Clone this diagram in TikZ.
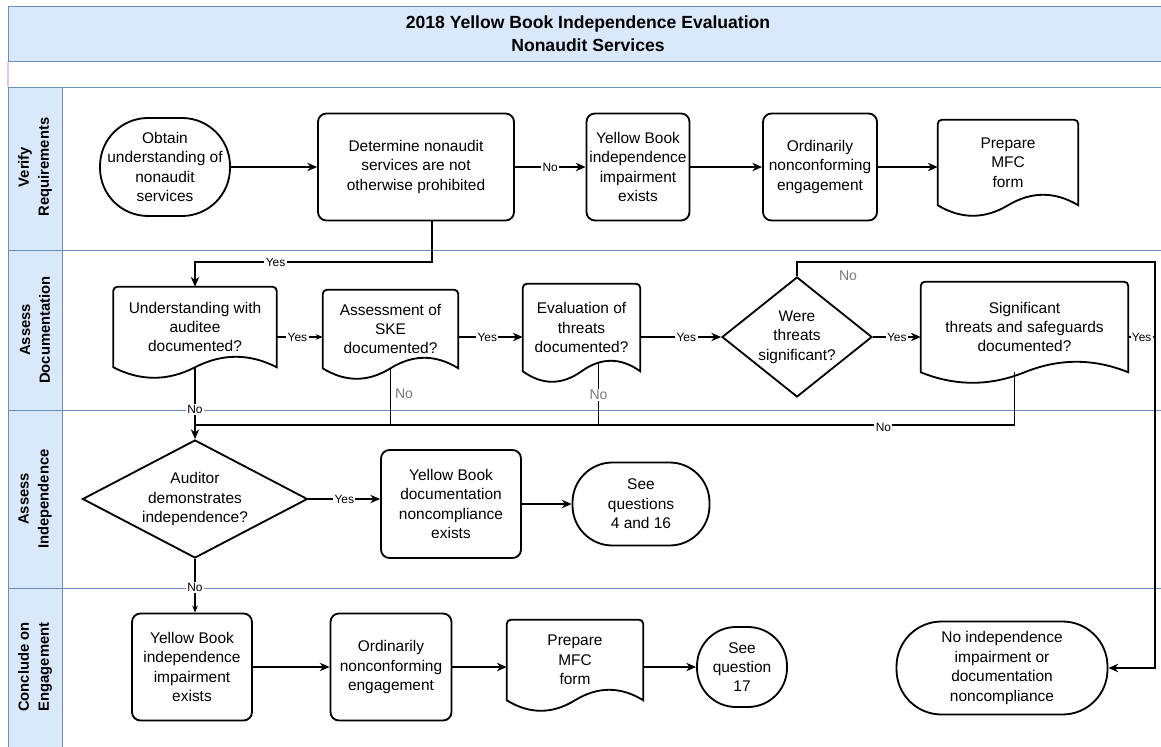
\documentclass[tikz,border=0pt]{standalone}
\usepackage{fontspec}
\setmainfont{Liberation Sans}
\usetikzlibrary{shapes.geometric,arrows.meta,calc}
\definecolor{lanefill}{HTML}{DAE8FC}
\definecolor{laneline}{HTML}{6C8EBF}
\definecolor{edgepurple}{HTML}{D9C8E6}
\definecolor{lblgray}{HTML}{7A7A7A}
\newcommand\pxu[1]{#1*0.025cm}
\newcommand\docwave[1]{%
  \draw[line width=1.3pt] (#1.south west) [rounded corners=3pt] -- (#1.north west) -- (#1.north east) [sharp corners] -- (#1.south east)
    .. controls ($(#1.south east)!0.1667!(#1.south west)+(0,-14)$) and ($(#1.south east)!0.3333!(#1.south west)+(0,-14)$) .. (#1.south)
    .. controls ($(#1.south east)!0.6667!(#1.south west)+(0,14)$) and ($(#1.south east)!0.8333!(#1.south west)+(0,14)$) .. (#1.south west) -- cycle;}
\begin{document}
\begin{tikzpicture}[x=0.025cm,y=-0.025cm,
  txt/.style={font=\fontsize{11}{13.8}\selectfont, align=center, inner sep=0pt},
  proc/.style={txt, draw, line width=1.3pt, rounded corners=6pt, rectangle},
  term/.style={txt, draw, line width=1.3pt, rectangle},
  dec/.style={txt, draw, line width=1.3pt, diamond},
  docn/.style={txt},
  lanelbl/.style={rotate=90, align=center, font=\bfseries\fontsize{10.5}{14.2}\selectfont},
  line/.style={line width=0.8pt},
  conn/.style={line width=0.8pt, -{Stealth[length=7pt,width=6pt]}},
  connsm/.style={line width=0.8pt, -{Stealth[length=5pt,width=4pt]}},
  lbl/.style={font=\fontsize{8.5}{10}\selectfont, fill=white, inner sep=1pt},
  glbl/.style={font=\fontsize{10}{12}\selectfont, text=lblgray, inner sep=1pt}]
\useasboundingbox (0,0) rectangle (1161,747);
% title band
\fill[lanefill] (8,6) rectangle (1170,61);
\draw[laneline] (8,6) rectangle (1170,61);
\node[font=\bfseries\fontsize{12.5}{16.3}\selectfont, align=center] (title) at (588,34) {2018 Yellow Book Independence Evaluation\\Nonaudit Services};
\draw[edgepurple, line width=1pt] (8,62) -- (8,87);
% lanes
\foreach \ya/\yb in {87/250, 250/410, 410/588, 588/760}{
  \fill[lanefill] (8,\ya) rectangle (62,\yb);
  \draw[laneline] (8,\ya) rectangle (1170,\yb);
  \draw[laneline] (62,\ya) -- (62,\yb);
}
\node[lanelbl] (l1) at (35,167) {Verify\\Requirements};
\node[lanelbl] (l2) at (35,330) {Assess\\Documentation};
\node[lanelbl] (l3) at (35,499) {Assess\\Independence};
\node[lanelbl] (l4) at (35,667) {Conclude on\\Engagement};

% lane 1
\node[term, rounded corners=\pxu{48}, minimum width=\pxu{130}, minimum height=\pxu{98}] (obtain) at (165,167) {Obtain\\understanding of\\nonaudit\\services};
\node[proc, minimum width=\pxu{196}, minimum height=\pxu{107}] (determine) at (416,167) {Determine nonaudit\\services are not\\otherwise prohibited};
\node[proc, minimum width=\pxu{103}, minimum height=\pxu{107}] (yb1) at (638,167) {Yellow Book\\independence\\impairment\\exists};
\node[proc, minimum width=\pxu{114}, minimum height=\pxu{107}] (ord1) at (820,167) {Ordinarily\\nonconforming\\engagement};
\node[docn, minimum width=\pxu{140}, minimum height=\pxu{85}] (mfc1) at (1008,162.5) {Prepare\\MFC\\form};
\docwave{mfc1}

% lane 2
\node[docn, minimum width=\pxu{163}, minimum height=\pxu{80}] (und) at (195,327) {Understanding with\\auditee\\documented?};
\docwave{und}
\node[docn, minimum width=\pxu{135}, minimum height=\pxu{78}] (ske) at (390.5,329) {Assessment of\\SKE\\documented?};
\docwave{ske}
\node[docn, minimum width=\pxu{117}, minimum height=\pxu{87}] (evalth) at (581.5,327.5) {Evaluation of\\threats\\documented?};
\docwave{evalth}
\node[dec, shape aspect=1.25, inner sep=0pt, minimum width=\pxu{150}, minimum height=\pxu{120}] (were) at (797,337) {Were\\threats\\significant?};
\node[docn, minimum width=\pxu{207}, minimum height=\pxu{90}] (sig) at (1024.5,327) {Significant\\threats and safeguards\\documented?};
\docwave{sig}

% lane 3
\node[dec, shape aspect=1.9, inner sep=0pt, minimum width=\pxu{225}, minimum height=\pxu{118}] (aud) at (195,499) {Auditor\\demonstrates\\independence?};
\node[proc, minimum width=\pxu{140}, minimum height=\pxu{108}] (ybdoc) at (451,504) {Yellow Book\\documentation\\noncompliance\\exists};
\node[term, rounded corners=\pxu{40}, minimum width=\pxu{137}, minimum height=\pxu{83}] (seeq) at (641,504) {See\\questions\\4 and 16};

% lane 4
\node[proc, minimum width=\pxu{120}, minimum height=\pxu{107}] (yb2) at (192,667) {Yellow Book\\independence\\impairment\\exists};
\node[proc, minimum width=\pxu{121}, minimum height=\pxu{107}] (ord2) at (391,667) {Ordinarily\\nonconforming\\engagement};
\node[docn, minimum width=\pxu{136}, minimum height=\pxu{80}] (mfc2) at (575,660) {Prepare\\MFC\\form};
\docwave{mfc2}
\node[term, rounded corners=\pxu{39}, minimum width=\pxu{90}, minimum height=\pxu{80}] (seeq17) at (742,667) {See\\question\\17};
\node[term, rounded corners=\pxu{45}, minimum width=\pxu{211}, minimum height=\pxu{93}] (noind) at (1002,668) {No independence\\impairment or\\documentation\\noncompliance};

% helper coordinates
\coordinate (ty) at (0,262);
\coordinate (dy) at ($(determine.south)+(16,0)$);
\coordinate (rt) at (1155,262);
\coordinate (rb) at (1155,668);
\coordinate (mj) at (195,425);
\coordinate (evb) at ($(evalth.south)+(17,-9)$);

% lane 1 connectors
\draw[conn] (obtain.east) -- (determine.west);
\draw[conn] (determine.east) -- node[lbl]{No} (yb1.west);
\draw[conn] (yb1.east) -- (ord1.west);
\draw[conn] (ord1.east) -- (ord1.east -| mfc1.west);
\draw[conn] (dy) -- (dy |- ty) -| node[lbl, pos=0.33]{Yes} (und.north);

% lane 2 connectors
\draw[connsm] (und.east |- were) -- node[lbl, pos=0.45]{Yes} (ske.west |- were);
\draw[conn] (ske.east |- were) -- node[lbl, pos=0.45]{Yes} (evalth.west |- were);
\draw[conn] (evalth.east |- were) -- node[lbl, pos=0.57]{Yes} (were.west);
\draw[conn] (were.east) -- node[lbl]{Yes} (sig.west |- were);
\draw[conn] (sig.east |- were) -- node[lbl]{Yes} (rt |- were);
\draw[conn] (were.north) |- (rt) -- (rb) -- (noind.east);
\node[glbl] (nolbl1) at (848,276) {No};

% No lines to auditor decision
\draw[conn] (und.south) -- node[lbl, pos=0.59]{No} (und.south |- aud.north);
\draw[line] ($(sig.south)+(-10,0)$) |- node[lbl, pos=0.58, yshift=-2]{No} (mj);
\draw[line] (ske.south) -- (ske.south |- mj);
\node[glbl] (nolbl2) at (404,394) {No};
\draw[line] (evb) -- node[glbl, fill=white, pos=0.52]{No} (evb |- mj);

% lane 3 connectors
\draw[conn] (aud.east) -- node[lbl]{Yes} (aud.east -| ybdoc.west);
\draw[conn] (ybdoc.east) -- (seeq.west);
\draw[connsm] (aud.south) -- node[lbl, pos=0.53]{No} (aud.south |- yb2.north);

% lane 4 connectors
\draw[conn] (yb2.east) -- (ord2.west);
\draw[conn] (ord2.east) -- (ord2.east -| mfc2.west);
\draw[conn] (mfc2.east |- seeq17) -- (seeq17.west);
\end{tikzpicture}
\end{document}
